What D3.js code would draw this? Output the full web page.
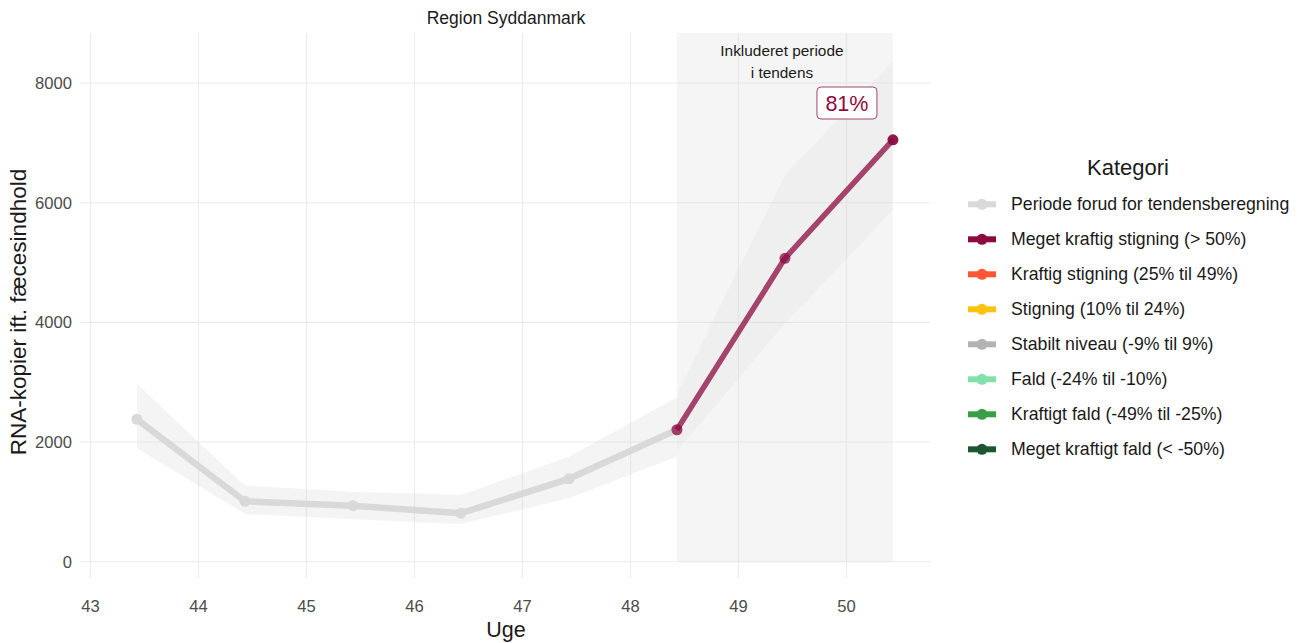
<!DOCTYPE html>
<html>
<head>
<meta charset="utf-8">
<script src="https://cdn.jsdelivr.net/npm/d3@7"></script>
<style>
  body { margin: 0; background: #fff; }
  svg { font-family: "Liberation Sans", Arial, sans-serif; }
</style>
</head>
<body>
<svg id="chart" width="1304" height="643"></svg>
<script>
// ---- data ----
const weeks = [43.43, 44.43, 45.43, 46.43, 47.43, 48.43, 49.43, 50.43];
const values = [2380, 1010, 936, 810, 1385, 2205, 5070, 7050];
const ribbonUpper = [2975, 1270, 1170, 1115, 1755, 2750];
const ribbonLower = [1895, 800, 710, 630, 1060, 1760];
const trendWeeks = [48.43, 49.43, 50.43];
const trendValues = [2205, 5070, 7050];
const trendUpper = [2800, 6460, 8360];
const trendLower = [1850, 3980, 5880];
const xTicks = [43, 44, 45, 46, 47, 48, 49, 50];
const yTicks = [0, 2000, 4000, 6000, 8000];
const periodStart = 48.43, periodEnd = 50.43;
const changeLabel = "81%";
const legendLabels = [
  "Periode forud for tendensberegning",
  "Meget kraftig stigning (> 50%)",
  "Kraftig stigning (25% til 49%)",
  "Stigning (10% til 24%)",
  "Stabilt niveau (-9% til 9%)",
  "Fald (-24% til -10%)",
  "Kraftigt fald (-49% til -25%)",
  "Meget kraftigt fald (< -50%)"
];
const legendColors = ["#d9d9d9", "#8b0a3f", "#ff5733", "#ffc20e", "#b3b3b3", "#82e0aa", "#3a9e46", "#1e5631"];

// ---- layout ----
const svg = d3.select("#chart");
const panel = { left: 80, right: 930, top: 33, bottom: 578 };
const x = d3.scaleLinear().domain([43, 50]).range([90.5, 846.5]);
const y = d3.scaleLinear().domain([0, 8000]).range([561.7, 83]);

// grid
const g = svg.append("g");
g.selectAll(".vg").data(xTicks).join("line")
  .attr("x1", d => x(d)).attr("x2", d => x(d))
  .attr("y1", panel.top).attr("y2", panel.bottom)
  .attr("stroke", "#ebebeb").attr("stroke-width", 1.1);
g.selectAll(".hg").data(yTicks).join("line")
  .attr("x1", panel.left).attr("x2", panel.right)
  .attr("y1", d => y(d)).attr("y2", d => y(d))
  .attr("stroke", "#ebebeb").attr("stroke-width", 1.1);

// included period rect
svg.append("rect")
  .attr("x", x(periodStart)).attr("width", x(periodEnd) - x(periodStart))
  .attr("y", panel.top).attr("height", y(0) - panel.top)
  .attr("fill", "#d9d9d9").attr("fill-opacity", 0.25);

// ribbons
const histRibbon = weeks.slice(0, 6).map((w, i) => ({ w, lo: ribbonLower[i], hi: ribbonUpper[i] }));
const trendRibbon = trendWeeks.map((w, i) => ({ w, lo: trendLower[i], hi: trendUpper[i] }));
const area = d3.area().x(d => x(d.w)).y0(d => y(d.lo)).y1(d => y(d.hi));
svg.append("path").datum(histRibbon).attr("d", area).attr("fill", "#d9d9d9").attr("fill-opacity", 0.28);
svg.append("path").datum(trendRibbon).attr("d", area).attr("fill", "#d9d9d9").attr("fill-opacity", 0.22);

// gray line
const line = d3.line().x(d => x(d.w)).y(d => y(d.v));
const histPts = weeks.slice(0, 6).map((w, i) => ({ w, v: values[i] }));
svg.append("path").datum(histPts).attr("d", line)
  .attr("fill", "none").attr("stroke", "#d9d9d9").attr("stroke-width", 6.5).attr("stroke-linejoin", "round");
svg.selectAll(".hp").data(histPts).join("circle")
  .attr("cx", d => x(d.w)).attr("cy", d => y(d.v)).attr("r", 5.5).attr("fill", "#d9d9d9");

// trend line
const trendPts = trendWeeks.map((w, i) => ({ w, v: trendValues[i] }));
svg.append("path").datum(trendPts).attr("d", line)
  .attr("fill", "none").attr("stroke", "#8b0a3f").attr("stroke-opacity", 0.75)
  .attr("stroke-width", 5.5).attr("stroke-linejoin", "round");
svg.selectAll(".tp").data(trendPts).join("circle")
  .attr("cx", d => x(d.w)).attr("cy", d => y(d.v)).attr("r", 5.5)
  .attr("fill", "#8b0a3f").attr("fill-opacity", (d, i) => i === trendPts.length - 1 ? 0.95 : 0.75);

// annotation text
const midX = (x(periodStart) + x(periodEnd)) / 2;
svg.append("text").attr("x", midX - 3).attr("y", 56).attr("text-anchor", "middle")
  .attr("font-size", 15.4).attr("fill", "#1a1a1a").text("Inkluderet periode");
svg.append("text").attr("x", midX - 3).attr("y", 78).attr("text-anchor", "middle")
  .attr("font-size", 15.4).attr("fill", "#1a1a1a").text("i tendens");

// percentage label
const lx = x(49.43) + 62, ly = 103;
const lbl = svg.append("g");
lbl.append("rect").attr("x", lx - 30).attr("y", ly - 16).attr("width", 60).attr("height", 32)
  .attr("rx", 4).attr("fill", "#fff").attr("stroke", "#a5456c").attr("stroke-width", 1);
lbl.append("text").attr("x", lx).attr("y", ly + 7.5).attr("text-anchor", "middle")
  .attr("font-size", 21.5).attr("fill", "#8b0a3f").text(changeLabel);

// axes tick labels
svg.selectAll(".xt").data(xTicks).join("text")
  .attr("x", d => x(d)).attr("y", 611.5).attr("text-anchor", "middle")
  .attr("font-size", 16.6).attr("fill", "#4d4d4d").text(d => d);
svg.selectAll(".yt").data(yTicks).join("text")
  .attr("x", 72).attr("y", d => y(d) + 6).attr("text-anchor", "end")
  .attr("font-size", 16.6).attr("fill", "#4d4d4d").text(d => d);

// titles
svg.append("text").attr("x", 506).attr("y", 24).attr("text-anchor", "middle")
  .attr("font-size", 17.5).attr("fill", "#1a1a1a").text("Region Syddanmark");
svg.append("text").attr("x", 506).attr("y", 637).attr("text-anchor", "middle")
  .attr("font-size", 21.5).attr("fill", "#1a1a1a").text("Uge");
svg.append("text").attr("transform", "translate(26,312) rotate(-90)").attr("text-anchor", "middle")
  .attr("font-size", 22.5).attr("fill", "#1a1a1a").text("RNA-kopier ift. fæcesindhold");

// legend
const leg = svg.append("g");
leg.append("text").attr("x", 1128).attr("y", 175).attr("text-anchor", "middle")
  .attr("font-size", 22).attr("fill", "#1a1a1a").text("Kategori");
const items = leg.selectAll(".li").data(legendLabels).join("g")
  .attr("transform", (d, i) => `translate(0,${204.3 + i * 35})`);
items.append("line").attr("x1", 968).attr("x2", 996).attr("y1", 0).attr("y2", 0)
  .attr("stroke", (d, i) => legendColors[i]).attr("stroke-width", 6);
items.append("circle").attr("cx", 982).attr("cy", 0).attr("r", 5.5).attr("fill", (d, i) => legendColors[i]);
items.append("text").attr("x", 1011).attr("y", 6).attr("font-size", 17.7).attr("fill", "#1a1a1a").text(d => d);
</script>
</body>
</html>
